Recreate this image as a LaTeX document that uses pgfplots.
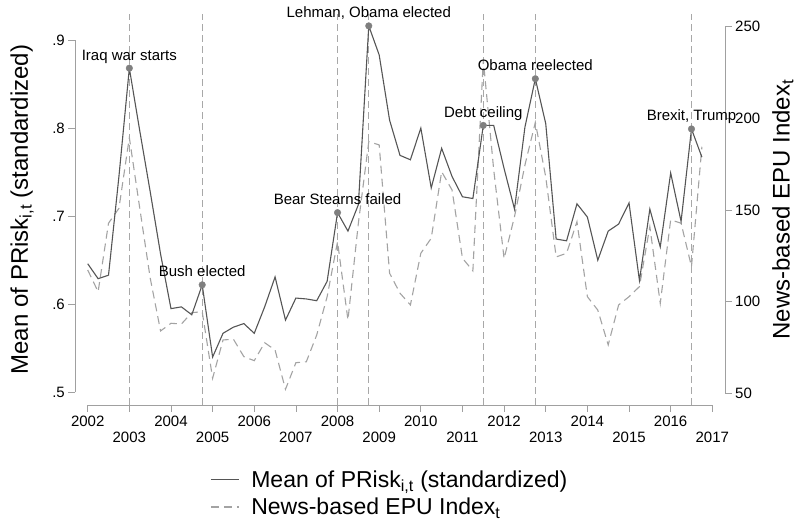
\documentclass[border=0pt]{standalone}
\usepackage{pgfplots}
\usepackage{pgfplotstable}
\pgfplotsset{compat=1.18}
\usepackage{fontspec}
\setmainfont{Liberation Sans}

\definecolor{riskline}{HTML}{555555}
\definecolor{epuline}{HTML}{A3A3A3}
\definecolor{axgray}{HTML}{A0A0A0}
\definecolor{evgray}{HTML}{7F7F7F}
\definecolor{vgray}{HTML}{A8A8A8}

% quarterly series: mean PRisk (left axis) and news-based EPU (right axis)
\pgfplotstableread{
t       prisk  epu
2002.00 0.646  117.3
2002.25 0.629  105.4
2002.50 0.633  142.8
2002.75 0.745  150.9
2003.00 0.868  189.5
2003.25 0.797  151.0
2003.50 0.728  113.0
2003.75 0.657   84.0
2004.00 0.595   88.2
2004.25 0.597   87.8
2004.50 0.588   94.0
2004.75 0.622   94.5
2005.00 0.540   58.2
2005.25 0.567   79.1
2005.50 0.574   79.5
2005.75 0.578   70.0
2006.00 0.567   67.8
2006.25 0.597   77.6
2006.50 0.631   73.6
2006.75 0.582   52.2
2007.00 0.607   66.7
2007.25 0.606   67.2
2007.50 0.604   81.8
2007.75 0.626  102.7
2008.00 0.704  132.7
2008.25 0.683   90.0
2008.50 0.713  142.8
2008.75 0.916  187.3
2009.00 0.883  185.5
2009.25 0.809  115.5
2009.50 0.769  104.6
2009.75 0.764   98.2
2010.00 0.800  126.4
2010.25 0.732  134.6
2010.50 0.777  170.9
2010.75 0.745  160.9
2011.00 0.722  123.7
2011.25 0.720  116.8
2011.50 0.803  232.0
2011.75 0.803  172.0
2012.00 0.754  123.5
2012.25 0.708  146.4
2012.50 0.801  174.5
2012.75 0.856  197.8
2013.00 0.805  168.0
2013.25 0.674  124.4
2013.50 0.672  126.4
2013.75 0.714  143.6
2014.00 0.699  102.7
2014.25 0.650   95.4
2014.50 0.683   76.4
2014.75 0.691   98.2
2015.00 0.715  102.7
2015.25 0.627  108.2
2015.50 0.708  140.9
2015.75 0.665   99.1
2016.00 0.749  144.6
2016.25 0.694  142.8
2016.50 0.799  119.1
2016.75 0.767  184.5
}\series

\pgfplotstableread[col sep=semicolon]{
t;v;lab
2003.00;0.868;Iraq war starts
2004.75;0.622;Bush elected
2008.00;0.704;Bear Stearns failed
2008.75;0.916;Lehman, Obama elected
2011.50;0.803;Debt ceiling
2012.75;0.856;Obama reelected
2016.50;0.799;Brexit, Trump
}\events

\pgfplotsset{
  basestyle/.style={
    scale only axis, width=650pt, height=391pt,
    xmin=2001.695, xmax=2017.305,
    clip=false,
    axis line style={draw=none},
    tick align=outside, major tick length=7pt,
    tick style={axgray, line width=0.7pt},
    tick label style={font=\fontsize{15}{18}\selectfont, text=black},
  },
  epustyle/.style={epuline, line width=1.1pt, dash pattern=on 8pt off 5pt},
  riskstyle/.style={riskline, line width=1.1pt},
}

\begin{document}
\begin{tikzpicture}
\useasboundingbox (-75pt,-124pt) rectangle (723pt,405pt);

% right axis: EPU index and event lines
\begin{axis}[basestyle,
  ymin=43.62, ymax=256.93,
  axis x line=none, axis y line*=right,
  ytick={50,100,150,200,250},
  yticklabels={50,100,150,200,250},
  yticklabel style={anchor=west, inner sep=3pt},
  ylabel={News-based EPU Index\textsubscript{t}},
  every axis y label/.style={at={(rel axis cs:1.089,0.5)}, rotate=90, anchor=center,
    font=\fontsize{24}{28}\selectfont},
]
\pgfplotsinvokeforeach{2003,2004.75,2008,2008.75,2011.5,2012.75,2016.5}{
  \addplot[vgray, line width=1pt, dash pattern=on 7pt off 4pt, forget plot]
    coordinates {(#1,43.62) (#1,256.93)};
}
\addplot[epustyle] table[x=t, y=epu] {\series};
\draw[axgray, line width=0.7pt] (axis cs:2017.305,50) -- (axis cs:2017.305,250);
\end{axis}

% left axis: mean PRisk
\begin{axis}[basestyle,
  ymin=0.4856, ymax=0.9295,
  axis x line*=bottom, axis y line*=left,
  xtick={2002,2004,...,2016},
  xticklabels={2002,2004,2006,2008,2010,2012,2014,2016},
  extra x ticks={2003,2005,...,2017},
  extra x tick labels={2003,2005,2007,2009,2011,2013,2015,2017},
  extra x tick style={xticklabel style={yshift=-16.6pt}},
  ytick={0.5,0.6,0.7,0.8,0.9},
  yticklabels={.5,.6,.7,.8,.9},
  yticklabel style={anchor=east, inner sep=3pt},
  ylabel={Mean of PRisk\textsubscript{i,t} (standardized)},
  every axis y label/.style={at={(rel axis cs:-0.0815,0.5)}, rotate=90, anchor=center,
    font=\fontsize{24}{28}\selectfont},
  legend style={at={(rel axis cs:0.2077,-0.165)}, anchor=north west, draw=none, fill=none,
    font=\fontsize{23}{26}\selectfont, inner sep=0pt, row sep=7pt,
    nodes={inner sep=1pt},
    /tikz/every odd column/.append style={column sep=11pt}},
  legend cell align=left,
  legend image code/.code={\draw[#1] (0pt,0pt) -- (28pt,0pt);},
]
\addplot[riskstyle] table[x=t, y=prisk] {\series};
\addlegendentry{Mean of PRisk\textsubscript{i,t} (standardized)}
\addlegendimage{epustyle}
\addlegendentry{News-based EPU Index\textsubscript{t}}
\addplot[only marks, mark=*, mark size=3.3pt, evgray, forget plot,
  nodes near coords, point meta=explicit symbolic,
  every node near coord/.append style={anchor=base, yshift=8pt, inner sep=0pt,
    font=\fontsize{15}{18}\selectfont, text=black}]
  table[x=t, y=v, meta=lab, col sep=semicolon] {\events};
\draw[axgray, line width=0.7pt] (axis cs:2002,0.4856) -- (axis cs:2017,0.4856);
\draw[axgray, line width=0.7pt] (axis cs:2001.695,0.5) -- (axis cs:2001.695,0.9);
\end{axis}
\end{tikzpicture}
\end{document}
